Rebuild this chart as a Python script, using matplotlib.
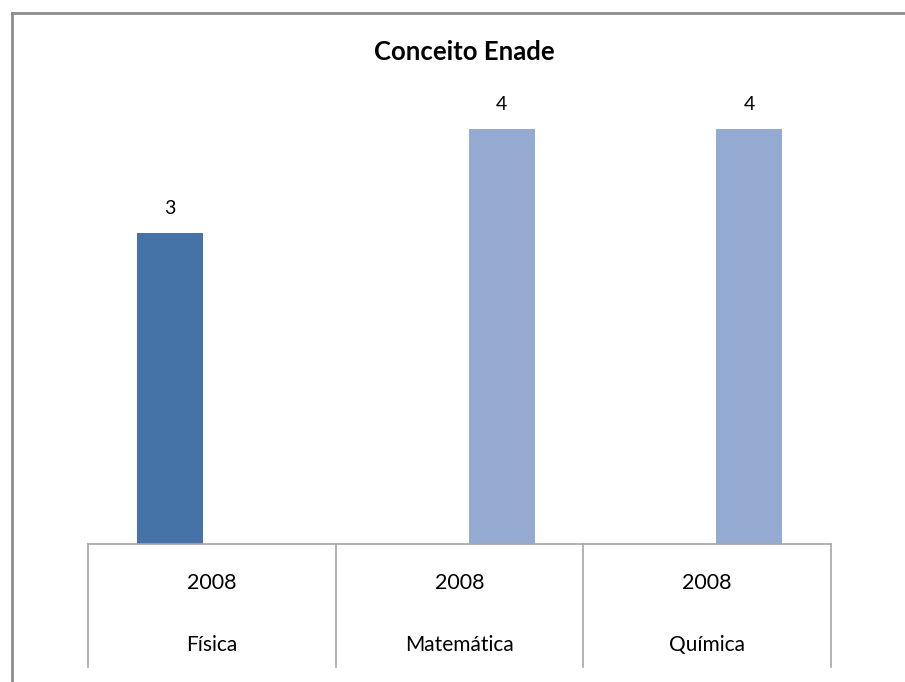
import matplotlib
matplotlib.use("Agg")
import matplotlib.pyplot as plt
from matplotlib.lines import Line2D

plt.rcParams['font.family'] = ['Lato', 'DejaVu Sans']

categories = ["Física", "Matemática", "Química"]
years = ["2008", "2008", "2008"]
values = [3, 4, 4]
title = "Conceito Enade"

# styles
colors = ["#4572A7", "#95AAD0", "#95AAD0"]
offsets = [-0.17, 0.17, 0.17]
bar_width = 0.267

W, H = 905, 682
fig = plt.figure(figsize=(W / 100, H / 100), dpi=100)
fig.patch.set_facecolor("white")

ax_left, ax_right, ax_bottom, ax_top = 88, 831, 544, 100
ax = fig.add_axes([ax_left / W, 1 - ax_bottom / H, (ax_right - ax_left) / W, (ax_bottom - ax_top) / H])
ymax = (ax_bottom - ax_top) / ((ax_bottom - 233) / 3.0)
ax.set_xlim(-0.5, len(categories) - 0.5)
ax.set_ylim(0, ymax)

xs = [i + o for i, o in enumerate(offsets)]
bars = ax.bar(xs, values, width=bar_width, color=colors, edgecolor="none", zorder=2)
for b, v in zip(bars, values):
    ax.annotate(str(v), (b.get_x() + b.get_width() / 2, v), xytext=(0, 18),
                textcoords="offset points", ha="center", va="center", fontsize=14, color="black")

for s in ["top", "right", "left"]:
    ax.spines[s].set_visible(False)
ax.spines["bottom"].set_color("#A6A6A6")
ax.spines["bottom"].set_linewidth(1.2)
ax.set_xticks([])
ax.set_yticks([])

# category separators and two-level labels
y_sep_bottom = (ax_bottom - 667) / (ax_bottom - ax_top)
tr = ax.get_xaxis_transform()
for i in range(len(categories) + 1):
    ax.add_line(Line2D([i - 0.5, i - 0.5], [0, y_sep_bottom], transform=tr,
                       color="#A6A6A6", lw=1.2, clip_on=False))
y_year = (ax_bottom - 583) / (ax_bottom - ax_top)
y_cat = (ax_bottom - 645) / (ax_bottom - ax_top)
for i, (yr, cat) in enumerate(zip(years, categories)):
    ax.text(i, y_year, yr, transform=tr, ha="center", va="center", fontsize=15.5)
    ax.text(i, y_cat, cat, transform=tr, ha="center", va="center", fontsize=15)

fig.text(464 / W, 1 - 52 / H, title, ha="center", va="center", fontsize=18.5, fontweight="bold")

# outer chart border (partially cropped)
fig.add_artist(Line2D([12 / W, 12 / W], [0, 1 - 12.5 / H], transform=fig.transFigure, color="#8C8C8C", lw=2))
fig.add_artist(Line2D([12 / W, 1], [1 - 12.5 / H, 1 - 12.5 / H], transform=fig.transFigure, color="#8C8C8C", lw=2))

fig.savefig("out.png", dpi=100, facecolor="white")
